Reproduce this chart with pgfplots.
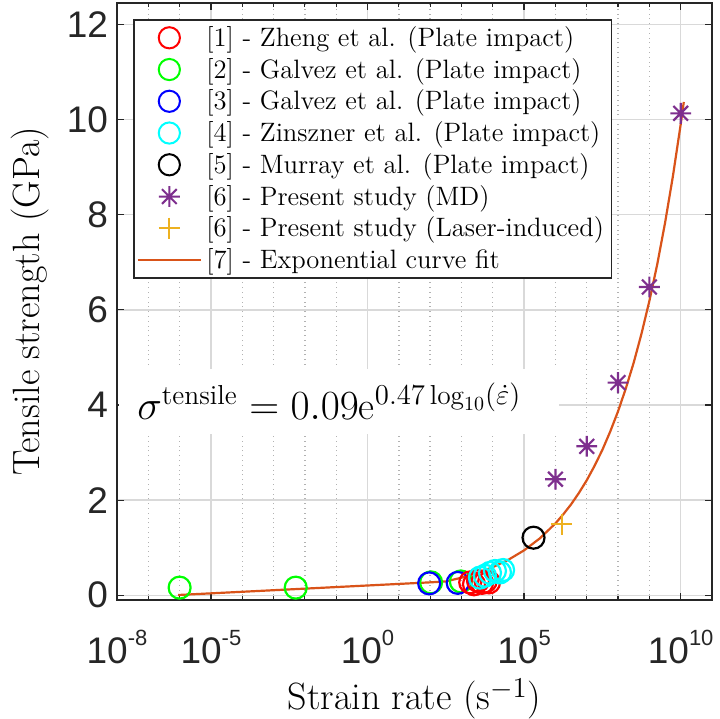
\documentclass[border=0pt]{standalone}
\usepackage{pgfplots}
\pgfplotsset{compat=1.18}
\usepackage{fontspec}
\newfontfamily\helv{Liberation Sans}
\definecolor{mpurple}{rgb}{0.494,0.184,0.556}
\definecolor{myellow}{rgb}{0.929,0.694,0.125}
\definecolor{morange}{rgb}{0.85,0.325,0.098}
\definecolor{mcyan}{rgb}{0,1,1}
\definecolor{mgreen}{rgb}{0,1,0}
\definecolor{mred}{rgb}{1,0,0}
\definecolor{mblue}{rgb}{0,0,1}
\newcommand{\tl}[1]{10\raisebox{9.5pt}{\fontsize{11}{11}\selectfont #1}}
\pgfdeclareplotmark{star8}{%
  \pgfpathmoveto{\pgfqpoint{0pt}{\pgfplotmarksize}}%
  \pgfpathlineto{\pgfqpoint{0pt}{-\pgfplotmarksize}}%
  \pgfpathmoveto{\pgfqpoint{\pgfplotmarksize}{0pt}}%
  \pgfpathlineto{\pgfqpoint{-\pgfplotmarksize}{0pt}}%
  \pgfpathmoveto{\pgfqpoint{0.7071\pgfplotmarksize}{0.7071\pgfplotmarksize}}%
  \pgfpathlineto{\pgfqpoint{-0.7071\pgfplotmarksize}{-0.7071\pgfplotmarksize}}%
  \pgfpathmoveto{\pgfqpoint{0.7071\pgfplotmarksize}{-0.7071\pgfplotmarksize}}%
  \pgfpathlineto{\pgfqpoint{-0.7071\pgfplotmarksize}{0.7071\pgfplotmarksize}}%
  \pgfusepathqstroke}
\begin{document}
\begin{tikzpicture}
\begin{axis}[
  at={(0,0)}, anchor=south west,
  width=297.5pt, height=298.5pt, scale only axis,
  xmode=log, xmin=1e-8, xmax=1e11, ymin=-0.1, ymax=12.45,
  xtick={1e-8,1e-5,1,1e5,1e10},
  xticklabels={\tl{-8},\tl{-5},\tl{0},\tl{5},\tl{10}},
  minor xtick={1e-7,1e-6,1e-4,1e-3,1e-2,1e-1,1e1,1e2,1e3,1e4,1e6,1e7,1e8,1e9},
  ytick={0,2,4,6,8,10,12},
  yticklabels={0,2,4,6,8,10,12},
  tick align=inside,
  major tick length=3.5pt, minor tick length=2.2pt,
  tick style={black!85, line width=0.6pt},
  ticklabel style={font=\helv\fontsize{18.5}{18.5}\selectfont, text=black!85},
  xticklabel style={anchor=base, yshift=-32pt},
  yticklabel style={xshift=-1pt},
  grid=both,
  major grid style={black!15, line width=0.7pt},
  minor grid style={black!30, dotted, line width=0.7pt},
  axis line style={black!85, line width=0.9pt},
  xlabel={Strain rate (s$^{-1}$)},
  ylabel={Tensile strength (GPa)},
  label style={font=\fontsize{19}{19}\selectfont},
  xlabel style={at={(rel axis cs:0.5,0)}, anchor=center, yshift=-49.5pt},
  ylabel style={at={(rel axis cs:0,0.5)}, anchor=center, yshift=43.5pt},
  legend style={at={(rel axis cs:0.027,0.973)}, anchor=north west, draw=black!85, line width=0.8pt, fill=white,
    font=\fontsize{13.3}{15.7}\selectfont, row sep=2pt, inner xsep=1.5pt, inner ysep=2pt,
    nodes={inner xsep=2.25pt, inner ysep=1.2pt}},
  legend cell align=left,
  legend image code/.code={\draw[mark repeat=2,mark phase=2,#1] plot coordinates {(0pt,0pt) (15.75pt,0pt) (31.5pt,0pt)};},
]
\addlegendimage{only marks, mark=o, mark size=5.3pt, mred, line width=1pt}
\addlegendentry{[1] - Zheng et al. (Plate impact)}
\addlegendimage{only marks, mark=o, mark size=5.3pt, mgreen, line width=1pt}
\addlegendentry{[2] - Galvez et al. (Plate impact)}
\addlegendimage{only marks, mark=o, mark size=5.3pt, mblue, line width=1pt}
\addlegendentry{[3] - Galvez et al. (Plate impact)}
\addlegendimage{only marks, mark=o, mark size=5.3pt, mcyan, line width=1pt}
\addlegendentry{[4] - Zinszner et al. (Plate impact)}
\addlegendimage{only marks, mark=o, mark size=5.3pt, black, line width=1pt}
\addlegendentry{[5] - Murray et al. (Plate impact)}
\addlegendimage{only marks, mark=star8, mark size=5.2pt, mpurple, line width=1pt}
\addlegendentry{[6] - Present study (MD)}
\addlegendimage{only marks, mark=+, mark size=5.3pt, myellow, line width=1pt}
\addlegendentry{[6] - Present study (Laser-induced)}
\addlegendimage{morange, line width=1pt}
\addlegendentry{[7] - Exponential curve fit}

% [2] Galvez
\addplot[forget plot, only marks, mark=o, mark size=5.5pt, mgreen, line width=1.1pt] coordinates {
(1e-6,0.16) (5.1e-3,0.16) (107,0.27) (955,0.29)};
% [3] Galvez
\addplot[forget plot, only marks, mark=o, mark size=5.5pt, mblue, line width=1.1pt] coordinates {
(93,0.25) (760,0.26)};
% [1] Zheng
\addplot[forget plot, only marks, mark=o, mark size=5.5pt, mred, line width=1.1pt] coordinates {
(1905,0.27) (2512,0.23) (3388,0.30) (4571,0.26) (5888,0.29) (7586,0.27)};
% [4] Zinszner
\addplot[forget plot, only marks, mark=o, mark size=5.5pt, mcyan, line width=1.1pt] coordinates {
(3890,0.37) (5623,0.41) (8128,0.47) (11750,0.51) (16980,0.48) (21380,0.53)};
% [5] Murray
\addplot[forget plot, only marks, mark=o, mark size=5.5pt, black, line width=1.1pt] coordinates {
(2e5,1.21)};
% [6] MD
\addplot[forget plot, only marks, mark=star8, mark size=5.2pt, mpurple, line width=1.1pt] coordinates {
(1e6,2.44) (1e7,3.13) (1e8,4.47) (1e9,6.48) (1e10,10.13)};
% [6] Laser
\addplot[forget plot, only marks, mark=+, mark size=5.3pt, myellow, line width=1.1pt] coordinates {
(1.58e6,1.49)};
% [7] fit
\addplot[forget plot, morange, line width=1.1pt] coordinates {
(8.9e-7,0.005) (93,0.27) (316,0.29) (1000,0.369) (3162,0.466) (1e4,0.590) (31623,0.746)
(1e5,0.944) (316228,1.194) (1e6,1.51) (1.778e6,1.70) (3.162e6,1.91) (5.623e6,2.15) (1e7,2.416)
(1.778e7,2.72) (3.162e7,3.056) (5.623e7,3.44)
(1e8,3.866) (1.778e8,4.35) (3.162e8,4.889) (5.623e8,5.50) (1e9,6.185) (1.778e9,6.95)
(3.162e9,7.823) (5.623e9,8.80) (1e10,9.895) (1.259e10,10.37)};

\node[fill=white, anchor=west, xshift=0.8pt, inner xsep=9.2pt, inner ysep=0pt, minimum height=32.5pt,
  text width=201.5pt, align=left, font=\fontsize{19.6}{19.6}\selectfont]
  at (rel axis cs:0,0.333) {$\sigma^{\mathrm{tensile}} = 0.09\mathrm{e}^{0.47\log_{10}(\dot{\varepsilon})}$};
\end{axis}
\pgfresetboundingbox
\useasboundingbox (-58.5pt,-59.5pt) rectangle (301.5pt,300pt);
\end{tikzpicture}
\end{document}
